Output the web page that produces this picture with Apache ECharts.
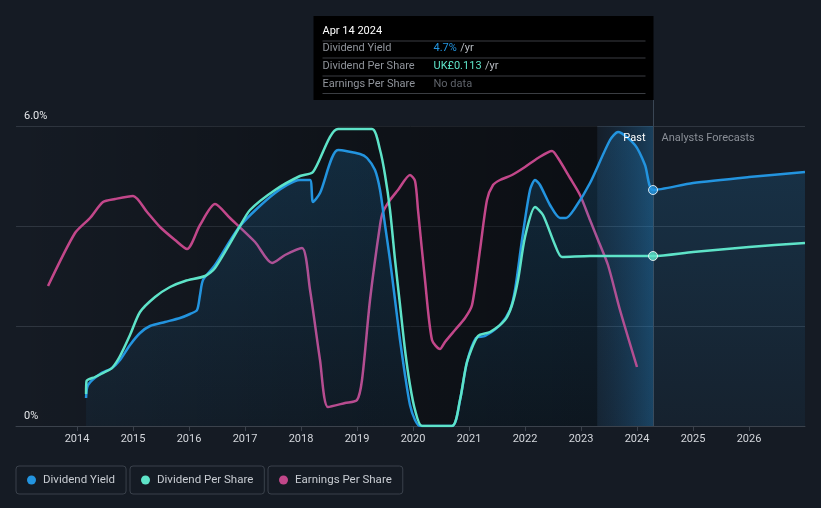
<!DOCTYPE html>
<html><head><meta charset="utf-8">
<script src="https://cdn.jsdelivr.net/npm/echarts@6/dist/echarts.min.js"></script>
<style>html,body{margin:0;padding:0;background:#151b24;}#c{width:821px;height:508px;}</style>
</head><body><div id="c"></div>
<script>
const yearTicks = [2014,2015,2016,2017,2018,2019,2020,2021,2022,2023,2024,2025,2026];
const yieldDates = [2014.161,2014.196,2014.411,2014.625,2014.768,2014.946,2015.125,2015.304,2015.571,2015.839,2016.018,2016.143,2016.196,2016.25,2016.464,2016.911,2017.536,2017.982,2018.161,2018.214,2018.339,2018.661,2019.054,2019.179,2019.321,2019.411,2019.5,2019.589,2019.679,2019.768,2019.857,2019.946,2020.036,2020.125,2020.696,2020.839,2020.964,2021.125,2021.286,2021.554,2021.732,2021.821,2021.946,2022.089,2022.179,2022.268,2022.446,2022.625,2022.732,2022.893,2023.161,2023.518,2023.661,2023.964,2024.143,2024.286,2025.0,2026.0,2027.0];
const yieldValues = [0.56,0.82,1.04,1.16,1.32,1.62,1.86,2.00,2.08,2.16,2.24,2.32,2.62,2.92,3.22,4.00,4.66,4.92,4.92,4.48,4.66,5.52,5.44,5.36,5.12,4.72,4.02,3.32,2.52,1.72,1.02,0.42,0.12,0,0,0.52,1.28,1.76,1.80,2.02,2.32,2.72,3.72,4.72,4.92,4.82,4.42,4.16,4.16,4.36,4.86,5.72,5.88,5.62,5.22,4.72,4.86,4.98,5.08];
const dpsDates = [2014.161,2014.17,2014.321,2014.5,2014.625,2014.768,2014.946,2015.125,2015.393,2015.661,2015.929,2016.286,2016.464,2016.911,2017.089,2017.536,2017.982,2018.214,2018.661,2019.268,2019.411,2019.5,2019.589,2019.679,2019.768,2019.857,2019.946,2020.036,2020.161,2020.696,2020.839,2020.964,2021.161,2021.375,2021.643,2021.768,2021.875,2022.0,2022.179,2022.321,2022.536,2022.661,2023.161,2024.286,2025.0,2026.0,2027.0];
const dpsValues = [0.64,0.90,0.98,1.08,1.16,1.40,1.82,2.28,2.58,2.78,2.90,3.00,3.16,4.00,4.32,4.72,5.00,5.08,5.94,5.94,5.52,5.02,4.32,3.32,2.42,1.52,0.82,0.32,0,0,0.52,1.28,1.80,1.88,2.12,2.42,2.92,3.78,4.38,4.22,3.62,3.38,3.40,3.40,3.48,3.58,3.66];
const epsDates = [2013.482,2013.964,2014.232,2014.464,2014.679,2015.0,2015.25,2015.482,2015.75,2015.964,2016.196,2016.464,2016.732,2017.179,2017.482,2017.714,2018.018,2018.161,2018.339,2018.482,2018.786,2019.0,2019.089,2019.232,2019.411,2019.464,2019.589,2019.732,2019.946,2020.036,2020.089,2020.214,2020.339,2020.482,2020.571,2020.75,2020.929,2021.054,2021.196,2021.321,2021.429,2021.554,2021.768,2022.0,2022.232,2022.482,2022.589,2022.804,2022.982,2023.161,2023.304,2023.482,2023.696,2024.0];
const epsValues = [2.80,3.86,4.16,4.48,4.54,4.60,4.28,3.98,3.72,3.54,4.02,4.44,4.16,3.68,3.26,3.42,3.56,2.72,1.32,0.38,0.46,0.52,0.92,2.52,4.02,4.28,4.52,4.72,5.02,4.90,4.32,2.92,1.72,1.54,1.68,1.92,2.16,2.42,3.52,4.52,4.82,4.92,5.02,5.18,5.36,5.50,5.36,4.96,4.62,4.12,3.72,3.22,2.32,1.18];
const todayDate = 2024.286;
const pastBandStart = 2023.29;
const xMin = 2012.91, xMax = 2027.0;

const C_YIELD = '#2394df', C_DPS = '#5ee3c8', C_EPS = '#c2478a';
const zip = (a,b) => a.map((v,i)=>[v,b[i]]);
const todayIdxY = yieldDates.indexOf(todayDate);
const todayIdxD = dpsDates.indexOf(todayDate);

const chart = echarts.init(document.getElementById('c'));
const legendBase = {
  top: 466, height: 27, icon: 'circle', itemWidth: 9, itemHeight: 9, itemGap: 0,
  borderColor: '#3a414b', borderWidth: 1, borderRadius: 3,
  padding: [8, 11, 8, 11],
  textStyle: {color: '#c8ccd2', fontSize: 11.5, fontFamily: 'Roboto', padding: [0,0,0,2]}
};
const lineCommon = {type: 'line', smooth: 0.25, showSymbol: false};
chart.setOption({
  backgroundColor: '#151b24',
  animation: false,
  grid: {left: 16, right: 16, top: 126, bottom: 82},
  legend: [
    Object.assign({}, legendBase, {left: 16, data: ['Dividend Yield']}),
    Object.assign({}, legendBase, {left: 130, data: ['Dividend Per Share']}),
    Object.assign({}, legendBase, {left: 268, data: ['Earnings Per Share']})
  ],
  xAxis: {
    type: 'value', min: xMin, max: xMax,
    axisLine: {show: true, lineStyle: {color: '#3b424c'}},
    axisTick: {show: true, length: 5, lineStyle: {color: '#3b424c'}, customValues: yearTicks},
    axisLabel: {color: '#d4d7dc', fontSize: 11, fontFamily: 'Roboto', margin: 8, customValues: yearTicks, formatter: v => String(Math.round(v))},
    splitLine: {show: false}
  },
  yAxis: {
    type: 'value', min: 0, max: 6, interval: 2,
    axisLine: {show: false}, axisTick: {show: false},
    axisLabel: {inside: true, margin: 8, color: '#e6e8eb', fontSize: 11, fontFamily: 'Roboto', verticalAlign: 'bottom', padding: [0,0,4,0],
      formatter: v => v === 6 ? '6.0%' : (v === 0 ? '0%' : '')},
    splitLine: {lineStyle: {color: '#2f3640', width: 1}}
  },
  series: [
    {
      name: 'bg', type: 'line', data: [], z: 0, silent: true,
      markArea: {silent: true, data: [
        [{xAxis: xMin, itemStyle: {color: {type: 'linear', x: 0, y: 0, x2: 1, y2: 0, colorStops: [{offset: 0, color: 'rgba(0,0,0,0)'}, {offset: 0.6, color: 'rgba(0,0,0,0.32)'}, {offset: 1, color: 'rgba(0,0,0,0.45)'}]}}}, {xAxis: pastBandStart}],
        [{xAxis: pastBandStart, itemStyle: {color: {type: 'linear', x: 0, y: 0, x2: 1, y2: 0, colorStops: [{offset: 0, color: 'rgba(20,90,150,0.05)'}, {offset: 1, color: 'rgba(35,140,210,0.32)'}]}}}, {xAxis: todayDate}]
      ]}
    },
    Object.assign({}, lineCommon, {
      name: 'Dividend Yield', data: zip(yieldDates, yieldValues), z: 3, color: C_YIELD,
      lineStyle: {width: 2.5, color: C_YIELD},
      areaStyle: {color: {type: 'linear', x: 0, y: 0, x2: 0, y2: 1, colorStops: [{offset: 0, color: 'rgba(35,148,223,0.28)'}, {offset: 1, color: 'rgba(35,148,223,0.08)'}]}}
    }),
    Object.assign({}, lineCommon, {
      name: 'Dividend Per Share', data: zip(dpsDates, dpsValues), z: 4, color: C_DPS,
      lineStyle: {width: 2.5, color: C_DPS}
    }),
    Object.assign({}, lineCommon, {
      name: 'Earnings Per Share', data: zip(epsDates, epsValues), z: 2, color: C_EPS,
      lineStyle: {width: 2.5, color: C_EPS}
    }),
    {
      name: 'todayY', type: 'scatter', z: 6, symbolSize: 9,
      data: [[yieldDates[todayIdxY], yieldValues[todayIdxY]]],
      itemStyle: {color: C_YIELD, borderColor: '#ffffff', borderWidth: 1}
    },
    {
      name: 'todayD', type: 'scatter', z: 6, symbolSize: 9,
      data: [[dpsDates[todayIdxD], dpsValues[todayIdxD]]],
      itemStyle: {color: C_DPS, borderColor: '#ffffff', borderWidth: 1}
    }
  ]
});

const tx = Math.round(chart.convertToPixel({xAxisIndex: 0}, todayDate)) + 0.5;
const gTop = chart.convertToPixel({yAxisIndex: 0}, 6);
const gBot = chart.convertToPixel({yAxisIndex: 0}, 0);
const boxL = tx - 340, boxT = 16, boxB = 100;
const F = 'Roboto';
const rowY = [48.5, 66.5, 84];
const lineY = [41, 58, 76, 93.5];
const els = [
  {type: 'line', z: 1, shape: {x1: tx, y1: boxB, x2: tx, y2: gBot}, style: {stroke: '#3a4654', lineWidth: 1}},
  {type: 'rect', z: 10, shape: {x: boxL, y: boxT, width: tx - boxL, height: boxB - boxT}, style: {fill: '#000000'}},
  {type: 'text', z: 11, x: boxL + 9, y: 31, style: {text: 'Apr 14 2024', fill: '#ffffff', font: '11px ' + F, verticalAlign: 'middle'}},
  {type: 'text', z: 11, x: boxL + 9, y: rowY[0], style: {text: 'Dividend Yield', fill: '#8f939a', font: '11px ' + F, verticalAlign: 'middle'}},
  {type: 'text', z: 11, x: boxL + 9, y: rowY[1], style: {text: 'Dividend Per Share', fill: '#8f939a', font: '11px ' + F, verticalAlign: 'middle'}},
  {type: 'text', z: 11, x: boxL + 9, y: rowY[2], style: {text: 'Earnings Per Share', fill: '#8f939a', font: '11px ' + F, verticalAlign: 'middle'}},
  {type: 'text', z: 11, x: boxL + 120, y: rowY[0], style: {rich: {a: {fill: C_YIELD, font: '11px ' + F}, b: {fill: '#b8bcc2', font: '11px ' + F}}, text: '{a|4.7%} {b|/yr}', verticalAlign: 'middle'}},
  {type: 'text', z: 11, x: boxL + 120, y: rowY[1], style: {rich: {a: {fill: C_DPS, font: '11px ' + F}, b: {fill: '#b8bcc2', font: '11px ' + F}}, text: '{a|UK£0.113} {b|/yr}', verticalAlign: 'middle'}},
  {type: 'text', z: 11, x: boxL + 120, y: rowY[2], style: {text: 'No data', fill: '#5f636a', font: '11px ' + F, verticalAlign: 'middle'}},
  {type: 'text', z: 7, x: tx - 8, y: gTop + 12, style: {text: 'Past', fill: '#ffffff', font: '11px ' + F, align: 'right', verticalAlign: 'middle'}},
  {type: 'text', z: 7, x: tx + 8, y: gTop + 12, style: {text: 'Analysts Forecasts', fill: '#8a8f97', font: '11px ' + F, align: 'left', verticalAlign: 'middle'}}
];
lineY.forEach(y => els.push({type: 'line', z: 11, shape: {x1: boxL + 9, y1: y, x2: tx - 8, y2: y}, style: {stroke: '#3a3d42', lineWidth: 1}}));
chart.setOption({graphic: {elements: els}});
</script></body></html>
